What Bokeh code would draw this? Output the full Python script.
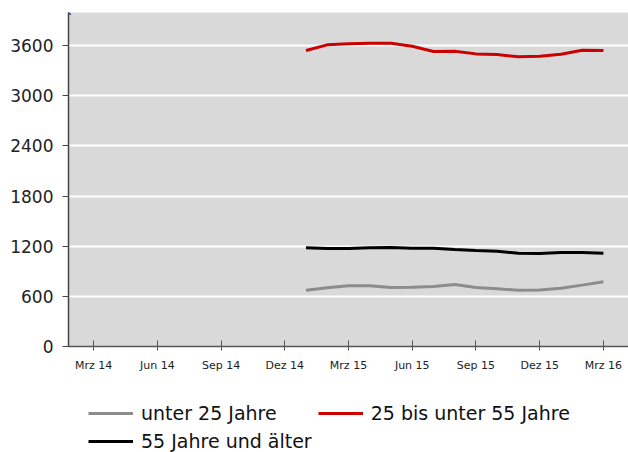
from bokeh.plotting import figure
from bokeh.layouts import column
from bokeh.models import Legend, LegendItem, Label, FixedTicker
from bokeh.embed import file_html
from bokeh.resources import INLINE

# Month index: 0 = Mrz 14
tick_pos = [0, 3, 6, 9, 12, 15, 18, 21, 24]
tick_labels = ["Mrz 14", "Jun 14", "Sep 14", "Dez 14", "Mrz 15", "Jun 15", "Sep 15", "Dez 15", "Mrz 16"]
y_ticks = [0, 600, 1200, 1800, 2400, 3000, 3600]

months = [10, 11, 12, 13, 14, 15, 16, 17, 18, 19, 20, 21, 22, 23, 24]  # Jan 15 .. Mrz 16
unter25 = [673, 702, 726, 726, 706, 710, 718, 742, 706, 690, 673, 677, 698, 734, 774]
mitte = [3540, 3608, 3620, 3628, 3628, 3592, 3528, 3532, 3500, 3492, 3465, 3472, 3496, 3544, 3540]
ueber55 = [1180, 1172, 1172, 1180, 1184, 1176, 1176, 1160, 1148, 1140, 1116, 1112, 1124, 1124, 1116]

series_names = ["unter 25 Jahre", "25 bis unter 55 Jahre", "55 Jahre und älter"]
series_colors = ["#8c8c8c", "#cc0000", "#000000"]
series_values = [unter25, mitte, ueber55]

FONT = "DejaVu Sans"
X0, X1, Y1 = -1.18, 25.18, 3995

p = figure(width=628, height=380, x_range=(X0, X1), y_range=(0, Y1),
           output_backend="svg", toolbar_location=None,
           min_border_left=68, min_border_top=12, min_border_right=0,
           min_border_bottom=34)
p.background_fill_color = "#d9d9d9"
p.border_fill_color = "white"
p.outline_line_color = None
p.xgrid.grid_line_color = None
p.ygrid.grid_line_color = "white"
p.ygrid.grid_line_width = 2
p.ygrid.ticker = FixedTicker(ticks=y_ticks[1:])

p.xaxis.ticker = FixedTicker(ticks=tick_pos)
p.xaxis.major_label_overrides = {t: l for t, l in zip(tick_pos, tick_labels)}
p.xaxis.minor_tick_line_color = None
p.xaxis.major_tick_in = 6
p.xaxis.major_tick_out = 4
p.xaxis.axis_line_color = "#555555"
p.xaxis.axis_line_width = 1.5
p.xaxis.major_tick_line_color = "#555555"
p.xaxis.major_label_text_font = FONT
p.xaxis.major_label_text_font_size = "11px"
p.xaxis.major_label_text_color = "#222222"
p.xaxis.major_label_standoff = 8

p.yaxis.ticker = FixedTicker(ticks=y_ticks)
p.yaxis.minor_tick_line_color = None
p.yaxis.major_tick_in = 0
p.yaxis.major_tick_out = 6
p.yaxis.axis_line_color = "#444444"
p.yaxis.axis_line_width = 1.5
p.yaxis.major_tick_line_color = "#444444"
p.yaxis.major_label_text_font = FONT
p.yaxis.major_label_text_font_size = "17px"
p.yaxis.major_label_text_color = "#222222"
p.yaxis.major_label_standoff = 9

for vals, col in zip(series_values, series_colors):
    p.line(months, vals, line_color=col, line_width=3)

# arrow head at the top of the y axis
p.add_layout(Label(x=X0, y=Y1, text="˄", text_font=FONT, text_font_size="16px",
                   text_color="#222222", text_align="center", text_baseline="top",
                   y_offset=4))

# Legend strip below the chart (legend proxies lie outside its visible range)
q = figure(width=628, height=72, x_range=(0, 1), y_range=(0, 1),
           output_backend="svg", toolbar_location=None,
           min_border_left=68, min_border_right=0, min_border_top=0, min_border_bottom=0)
q.axis.visible = False
q.grid.grid_line_color = None
q.outline_line_color = None
q.background_fill_color = "white"
q.border_fill_color = "white"
items = []
for name, vals, col in zip(series_names, series_values, series_colors):
    r = q.line(months, vals, line_color=col, line_width=3)
    items.append(LegendItem(label=name, renderers=[r]))

legend = Legend(items=items, ncols=2, location=(20, 0), orientation="horizontal")
legend.label_text_font = FONT
legend.label_text_font_size = "19px"
legend.label_text_color = "#111111"
legend.glyph_width = 45
legend.label_standoff = 8
legend.spacing = 6
legend.padding = 0
legend.margin = 0
legend.border_line_color = None
legend.background_fill_alpha = 0
legend.label_height = 22
legend.glyph_height = 22
q.add_layout(legend)

layout = column(p, q, spacing=0)
open("out.html", "w").write(file_html(layout, INLINE))
